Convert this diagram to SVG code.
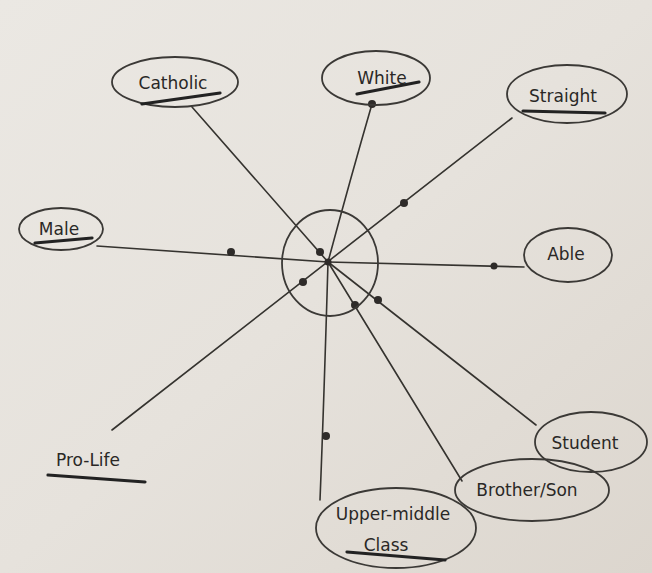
<svg xmlns="http://www.w3.org/2000/svg" width="652" height="573" viewBox="0 0 652 573">
<defs>
<linearGradient id="paper" x1="0" y1="0" x2="1" y2="1">
<stop offset="0" stop-color="#ebe8e3"/>
<stop offset="0.5" stop-color="#e6e2dc"/>
<stop offset="1" stop-color="#dcd6ce"/>
</linearGradient>
</defs>
<style>
.o{fill:none;stroke:#3b3936;stroke-width:1.8;stroke-linecap:round}
.l{fill:none;stroke:#35332f;stroke-width:1.6;stroke-linecap:round}
.u{fill:none;stroke:#222;stroke-width:3.2;stroke-linecap:round}
.d{fill:#2e2b29}
.t{font-family:"DejaVu Sans",sans-serif;font-size:17px;fill:#2a2826;text-anchor:middle}
</style>
<rect width="652" height="573" fill="url(#paper)"/>
<g id="connectors">
<line class="l" x1="328" y1="262" x2="192" y2="107"/>
<path class="l" d="M328,262 Q350,180 372,104"/>
<line class="l" x1="112" y1="430" x2="512" y2="118"/>
<line class="l" x1="328" y1="262" x2="97" y2="246"/>
<line class="l" x1="328" y1="262" x2="524" y2="267"/>
<path class="l" d="M328,262 Q324,400 320,500"/>
<line class="l" x1="328" y1="262" x2="462" y2="481"/>
<line class="l" x1="328" y1="262" x2="536" y2="425"/>
<circle class="d" cx="320" cy="252" r="4"/>
<circle class="d" cx="372" cy="104" r="4"/>
<circle class="d" cx="404" cy="203" r="4"/>
<circle class="d" cx="231" cy="252" r="4"/>
<circle class="d" cx="494" cy="266" r="3.5"/>
<circle class="d" cx="303" cy="282" r="4"/>
<circle class="d" cx="326" cy="436" r="4"/>
<circle class="d" cx="355" cy="305" r="4"/>
<circle class="d" cx="378" cy="300" r="4"/>
<circle class="d" cx="328" cy="262" r="3.5"/>
</g>
<g id="center"><ellipse class="o" cx="330" cy="263" rx="48" ry="53"/></g>
<g id="catholic">
<ellipse class="o" cx="175" cy="82" rx="63" ry="25"/>
<text class="t" x="173" y="89">Catholic</text>
<path class="u" d="M142,104 L220,93"/>
</g>
<g id="white">
<ellipse class="o" cx="376" cy="78" rx="54" ry="27"/>
<text class="t" x="382" y="84">White</text>
<path class="u" d="M357,94 L419,82"/>
</g>
<g id="straight">
<ellipse class="o" cx="567" cy="94" rx="60" ry="29"/>
<text class="t" x="563" y="102">Straight</text>
<path class="u" d="M523,111 L605,113"/>
</g>
<g id="male">
<ellipse class="o" cx="61" cy="229" rx="42" ry="21"/>
<text class="t" x="59" y="235">Male</text>
<path class="u" d="M35,243 L92,238"/>
</g>
<g id="able">
<ellipse class="o" cx="568" cy="255" rx="44" ry="27"/>
<text class="t" x="566" y="260">Able</text>
</g>
<g id="prolife">
<text class="t" x="88" y="466">Pro-Life</text>
<path class="u" d="M48,475 L145,482"/>
</g>
<g id="student">
<ellipse class="o" cx="591" cy="442" rx="56" ry="30"/>
<text class="t" x="585" y="449">Student</text>
</g>
<g id="brother">
<ellipse class="o" cx="532" cy="490" rx="77" ry="31"/>
<text class="t" x="527" y="496">Brother/Son</text>
</g>
<g id="uppermiddle">
<ellipse class="o" cx="396" cy="528" rx="80" ry="40"/>
<text class="t" x="393" y="520">Upper-middle</text>
<text class="t" x="386" y="551">Class</text>
<path class="u" d="M347,552 L445,560"/>
</g>
</svg>
